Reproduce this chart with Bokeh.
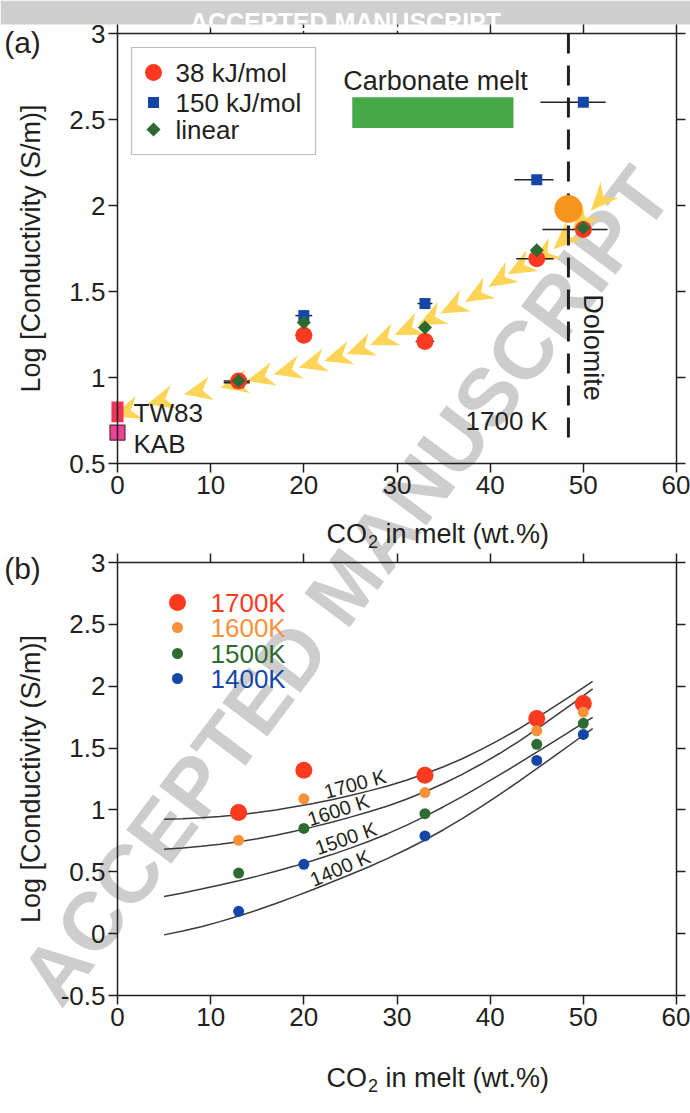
import math
from bokeh.plotting import figure
from bokeh.models import Label, BoxAnnotation, LinearAxis, FixedTicker, Range1d
from bokeh.embed import file_html
from bokeh.resources import INLINE

FONT = "Liberation Sans"
INK = "#231f20"

# ---------------- data ----------------
# CO2 content of the five melts (wt.%)
co2 = [13, 20, 33, 45, 50]

# (a) log conductivity (S/m) at 1700 K, three temperature corrections
sig_38kj = [0.98, 1.245, 1.21, 1.69, 1.86]
sig_150kj = [0.97, 1.36, 1.43, 2.15, 2.60]
sig_linear = [0.98, 1.32, 1.29, 1.74, 1.87]

# CO2 uncertainty ranges (wt.%)
co2_lo_38 = [11.4, 19.1, 32.0, 42.8, 45.6]
co2_hi_38 = [14.2, 20.9, 34.0, 46.8, 52.6]
co2_lo_150 = [11.4, 19.1, 32.2, 42.6, 45.4]
co2_hi_150 = [14.2, 20.9, 33.8, 46.8, 52.4]

# dolomite composition and its conductivity
dolomite_co2 = 48.4
dolomite_sig = 1.98
dolomite_sig_min = 0.6

# carbonate melt conductivity range
carb_co2 = [25.2, 42.5]
carb_sig = [2.45, 2.63]

# CO2-free references
tw83_sig = [0.74, 0.86]
kab_sig = 0.68

# conductivity trend with CO2 content
trend_co2 = [0.9, 4.6, 8.6, 12.5, 15.3, 18.2, 20.9, 23.6, 26.0, 28.5, 31.1,
             33.6, 36.0, 38.6, 41.1, 43.2, 45.7, 47.9, 49.8, 51.8]
trend_sig = [0.80, 0.865, 0.92, 0.96, 1.00, 1.04, 1.08, 1.12, 1.165, 1.22, 1.28,
             1.34, 1.41, 1.48, 1.57, 1.64, 1.71, 1.80, 1.91, 2.03]

# (b) log conductivity at four temperatures
temps = ["1700K", "1600K", "1500K", "1400K"]
temp_colors = ["#fd3a1f", "#f7923a", "#2e6b31", "#1446a8"]
temp_sizes = [17, 11, 11, 11]
sig_T = {
    "1700K": [0.98, 1.32, 1.28, 1.74, 1.86],
    "1600K": [0.755, 1.09, 1.14, 1.64, 1.79],
    "1500K": [0.49, 0.85, 0.97, 1.53, 1.70],
    "1400K": [0.18, 0.56, 0.79, 1.40, 1.61],
}

# model curves
fit_co2 = [5, 7, 9, 11, 13, 15, 17, 19, 21, 23, 25, 27, 29, 31, 33, 35, 37, 39,
           41, 43, 45, 47, 49, 51]
fit_T = {
    "1700 K": [0.925, 0.929, 0.936, 0.947, 0.961, 0.979, 1.000, 1.025, 1.052, 1.083,
               1.117, 1.154, 1.194, 1.240, 1.292, 1.349, 1.414, 1.487, 1.566, 1.652,
               1.745, 1.841, 1.939, 2.039],
    "1600 K": [0.683, 0.693, 0.706, 0.723, 0.743, 0.767, 0.795, 0.827, 0.863, 0.901,
               0.942, 0.985, 1.032, 1.086, 1.147, 1.214, 1.288, 1.369, 1.456, 1.551,
               1.654, 1.760, 1.868, 1.978],
    "1500 K": [0.300, 0.329, 0.360, 0.393, 0.428, 0.465, 0.505, 0.546, 0.591, 0.639,
               0.691, 0.747, 0.808, 0.875, 0.948, 1.026, 1.108, 1.194, 1.283, 1.374,
               1.467, 1.561, 1.655, 1.749],
    "1400 K": [-0.010, 0.021, 0.056, 0.097, 0.142, 0.191, 0.244, 0.299, 0.357, 0.417,
               0.478, 0.541, 0.608, 0.680, 0.757, 0.840, 0.929, 1.024, 1.124, 1.227,
               1.333, 1.441, 1.549, 1.657],
}
# curve label anchors (CO2, log sigma, rotation in degrees)
fit_label_co2 = [25.5, 23.7, 24.5, 23.9]
fit_label_sig = [1.21, 1.00, 0.77, 0.53]
fit_label_deg = [15, 18, 19, 23]

x_ticks = [0, 10, 20, 30, 40, 50, 60]
y_ticks_a = [0.5, 1, 1.5, 2, 2.5, 3]
y_labels_a = ["0.5", "1", "1.5", "2", "2.5", "3"]
y_ticks_b = [-0.5, 0, 0.5, 1, 1.5, 2, 2.5, 3]
y_labels_b = ["-0.5", "0", "0.5", "1", "1.5", "2", "2.5", "3"]

# ---------------- page geometry (pixels from the top-left) ----------------
W, H = 690, 1113
BANNER_H = 24
FRAME_L, FRAME_R = 117, 676
A_TOP, A_BOT = 33, 463
B_TOP, B_BOT = 562, 995
X0, X1 = 0.0, 60.0
A0, A1 = 0.5, 3.0
B0, B1 = -0.5, 3.0

# the canvas itself is the frame; page pixels are the default coordinates
p = figure(width=W, height=H, x_range=Range1d(0, W), y_range=Range1d(H, 0),
           x_axis_type=None, y_axis_type=None, toolbar_location=None,
           output_backend="svg", min_border=0)
p.grid.visible = False
p.outline_line_color = None
p.background_fill_color = "white"
p.border_fill_color = "white"

# panel scales stretched over the whole canvas
kx = (X1 - X0) / (FRAME_R - FRAME_L)
ka = (A1 - A0) / (A_BOT - A_TOP)
kb = (B1 - B0) / (B_BOT - B_TOP)
p.extra_x_ranges = {"co2": Range1d(X0 - FRAME_L * kx, X1 + (W - FRAME_R) * kx)}
p.extra_y_ranges = {
    "a": Range1d(A0 - (H - A_BOT) * ka, A1 + A_TOP * ka),
    "b": Range1d(B0 - (H - B_BOT) * kb, B1 + B_TOP * kb),
}
A = dict(x_range_name="co2", y_range_name="a")
B = dict(x_range_name="co2", y_range_name="b")


def style_axis(ax, labels=True):
    ax.axis_line_color = INK
    ax.axis_line_width = 1.5
    ax.major_tick_line_color = INK
    ax.major_tick_line_width = 1.5
    ax.major_tick_in = 0
    ax.major_tick_out = 9
    ax.minor_tick_line_color = None
    ax.major_label_text_font = FONT
    ax.major_label_text_font_size = "26px"
    ax.major_label_standoff = 3
    ax.major_label_text_color = INK if labels else None


def panel_axes(yname, y0, y1, yticks, ylabels):
    yt = dict(zip(yticks, ylabels))
    for side, loc, labels in (("left", X0, True), ("right", X1, False)):
        ax = LinearAxis(x_range_name="co2", y_range_name=yname, fixed_location=loc,
                        bounds=(y0, y1), ticker=FixedTicker(ticks=yticks),
                        major_label_overrides=yt)
        style_axis(ax, labels)
        p.add_layout(ax, side)
    for side, loc, labels in (("below", y0, True), ("above", y1, False)):
        ax = LinearAxis(x_range_name="co2", y_range_name=yname, fixed_location=loc,
                        bounds=(X0, X1), ticker=FixedTicker(ticks=x_ticks))
        style_axis(ax, labels)
        p.add_layout(ax, side)


def text(x, y, s, size=26, color=INK, align="left", baseline="middle",
         angle=0.0, style="normal", level="annotation"):
    p.add_layout(Label(x=x, y=y, text=s, text_font=FONT, text_font_size=f"{size}px",
                       text_color=color, text_align=align, text_baseline=baseline,
                       angle=angle, text_font_style=style, level=level))


def x_title(py):
    # "CO" + subscript 2 + "in melt (wt.%)"
    text(366.5, py, "CO", size=27, align="right", baseline="alphabetic")
    text(367.5, py + 8, "2", size=18, baseline="alphabetic")
    text(385, py, "in melt (wt.%)", size=27, baseline="alphabetic")


# ---------------- watermark and banner ----------------
text(345, 585, "ACCEPTED MANUSCRIPT", size=82, color="#cdcdcd", align="center",
     angle=math.radians(53), style="bold", level="underlay")
p.quad(left=[0], right=[W], top=[0], bottom=[BANNER_H], fill_color="#cfcfcf", line_color=None)
text(W / 2, 21, "ACCEPTED MANUSCRIPT", size=25, color="white", align="center",
     baseline="alphabetic", style="bold")

# ---------------- panel (a) ----------------
panel_axes("a", A0, A1, y_ticks_a, y_labels_a)

# trend arrowheads pointing back toward low CO2
sx = 1.0 / kx
sy = 1.0 / ka
chev_xs, chev_ys = [], []
n = len(trend_co2)
for i in range(n):
    j0, j1 = max(i - 1, 0), min(i + 1, n - 1)
    tx = (trend_co2[j1] - trend_co2[j0]) * sx
    ty = (trend_sig[j1] - trend_sig[j0]) * sy
    L = math.hypot(tx, ty)
    dx, dy = -tx / L, -ty / L
    nx, ny = -dy, dx
    cx, cy = trend_co2[i] * sx, trend_sig[i] * sy
    hl, hw, notch = 14.0, 12.0, 5.0
    pts = [(cx + hl * dx, cy + hl * dy),
           (cx - hl * dx + hw * nx, cy - hl * dy + hw * ny),
           (cx - notch * dx, cy - notch * dy),
           (cx - hl * dx - hw * nx, cy - hl * dy - hw * ny)]
    chev_xs.append([q[0] / sx for q in pts])
    chev_ys.append([q[1] / sy for q in pts])
p.patches(chev_xs, chev_ys, fill_color="#fdd456", line_color=None, **A)

# carbonate melt range
p.quad(left=[carb_co2[0]], right=[carb_co2[1]], bottom=[carb_sig[0]], top=[carb_sig[1]],
       fill_color="#45a947", line_color=None, **A)
text(435, 80, "Carbonate melt", size=27, align="center")

# dolomite composition
p.segment(x0=[dolomite_co2], y0=[A1], x1=[dolomite_co2], y1=[dolomite_sig_min],
          line_color=INK, line_width=3, line_dash="20 12", **A)

# CO2 error bars
p.segment(x0=co2_lo_150, y0=sig_150kj, x1=co2_hi_150, y1=sig_150kj,
          line_color=INK, line_width=1.5, **A)
p.segment(x0=co2_lo_38, y0=sig_38kj, x1=co2_hi_38, y1=sig_38kj,
          line_color=INK, line_width=1.5, **A)

p.scatter([dolomite_co2], [dolomite_sig], size=28, marker="circle",
          fill_color="#f7941d", line_color=None, **A)

# CO2-free references
p.vbar(x=[0], width=1.3, bottom=[tw83_sig[0]], top=[tw83_sig[1]],
       fill_color="#ef3557", line_color=None, **A)
p.scatter([0], [kab_sig], size=15, marker="square", fill_color="#ee4096",
          line_color="#5b2a3c", line_width=1.2, **A)
text(133, 412, "TW83")
text(133, 443, "KAB")

p.scatter(co2, sig_150kj, size=11, marker="square", fill_color="#1446a8", line_color=None, **A)
p.scatter(co2, sig_38kj, size=17, marker="circle", fill_color="#fd3a1f", line_color=None, **A)
p.scatter(co2, sig_linear, size=10, marker="square", angle=math.pi / 4,
          fill_color="#2d6930", line_color=None, **A)

text(465, 420, "1700 K")
text(592, 347, "Dolomite", size=27, align="center", angle=-math.pi / 2)

# legend
p.add_layout(BoxAnnotation(left=131, right=315, top=47, bottom=154,
                           fill_color=None, line_color=INK, line_width=1.2))
p.scatter([153], [72], size=17, marker="circle", fill_color="#fd3a1f", line_color=None)
p.scatter([153], [102], size=11, marker="square", fill_color="#1446a8", line_color=None)
p.scatter([153], [129], size=10, marker="square", angle=math.pi / 4,
          fill_color="#2d6930", line_color=None)
text(175, 72, "38 kJ/mol")
text(175, 102, "150 kJ/mol")
text(175, 129, "linear")

text(22, 42, "(a)", size=30, align="center")
text(30, (A_TOP + A_BOT) / 2, "Log [Conductivity (S/m)]", size=27, align="center",
     angle=math.pi / 2)
x_title(533)

# ---------------- panel (b) ----------------
panel_axes("b", B0, B1, y_ticks_b, y_labels_b)

for name in fit_T:
    p.line(fit_co2, fit_T[name], line_color="#3a3a3a", line_width=1.5, **B)
for name, fx, fy, deg in zip(fit_T, fit_label_co2, fit_label_sig, fit_label_deg):
    p.add_layout(Label(x=fx, y=fy, text=name, text_font=FONT, text_font_size="20px",
                       text_color=INK, text_align="center", text_baseline="middle",
                       angle=math.radians(deg), **B))

for t, c, s in zip(temps, temp_colors, temp_sizes):
    p.scatter(co2, sig_T[t], size=s, marker="circle", fill_color=c, line_color=None, **B)

# legend
for t, c, s, py in zip(temps, temp_colors, temp_sizes, [602, 627, 653, 678]):
    p.scatter([177], [py], size=s, marker="circle", fill_color=c, line_color=None)
    text(210, py, t, color=c)

text(22, 568, "(b)", size=30, align="center")
text(30, (B_TOP + B_BOT) / 2, "Log [Conductivity (S/m)]", size=27, align="center",
     angle=math.pi / 2)
x_title(1077)

open("out.html", "w").write(file_html(p, INLINE))
